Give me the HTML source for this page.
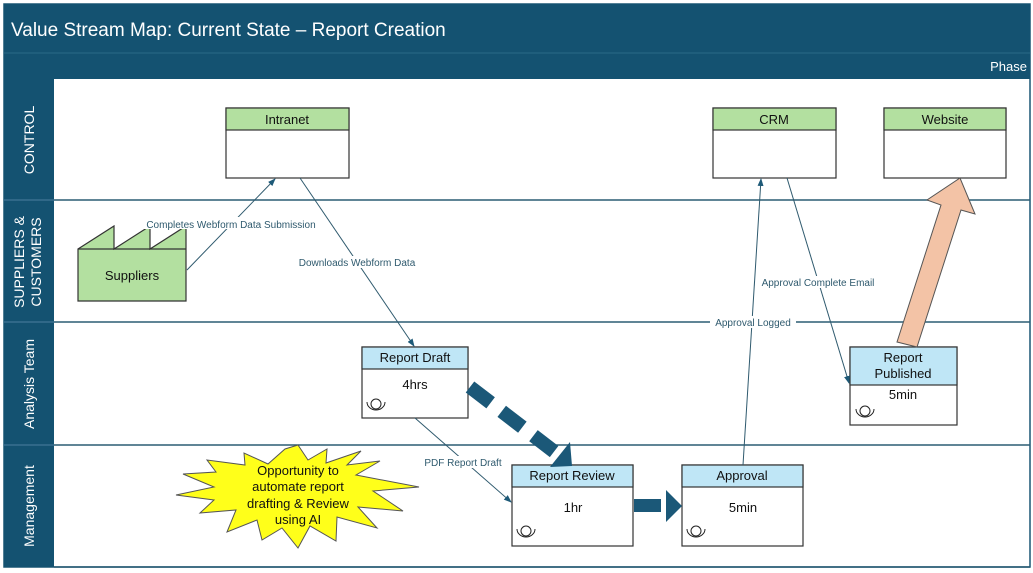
<!DOCTYPE html>
<html><head><meta charset="utf-8"><style>
body{margin:0;background:#fff;width:1033px;height:573px;overflow:hidden}
svg{display:block;font-family:"Liberation Sans",sans-serif}
</style></head><body>
<svg width="1033" height="573" viewBox="0 0 1033 573">
<defs>
<marker id="a" markerWidth="8" markerHeight="8" refX="7" refY="4" orient="auto" markerUnits="userSpaceOnUse"><path d="M0,1 L8,4 L0,7 Z" fill="#1e5a78"/></marker>
</defs>
<rect x="4" y="4" width="1026" height="563" fill="#fff" stroke="#1a5674" stroke-width="1.5"/>
<rect x="4" y="4" width="1026" height="49" fill="#145271"/>
<rect x="4" y="53" width="1026" height="26" fill="#145271"/>
<line x1="4" y1="53" x2="1030" y2="53" stroke="#2a6a88" stroke-width="1"/>
<text x="11" y="36" fill="#fff" font-size="19">Value Stream Map: Current State – Report Creation</text>
<text x="1027" y="71" fill="#fff" font-size="13" text-anchor="end">Phase</text>
<rect x="4" y="79" width="50" height="488" fill="#145271"/>
<g stroke="#2b5d74" stroke-width="1.5">
<line x1="54" y1="200" x2="1030" y2="200"/><line x1="54" y1="322" x2="1030" y2="322"/><line x1="54" y1="445" x2="1030" y2="445"/><line x1="54" y1="567" x2="1030" y2="567"/>
<line x1="4" y1="200" x2="54" y2="200" stroke="#3a7090"/><line x1="4" y1="322" x2="54" y2="322" stroke="#3a7090"/><line x1="4" y1="445" x2="54" y2="445" stroke="#3a7090"/>
</g>
<g fill="#fff" font-size="14" text-anchor="middle">
<text transform="translate(34,140) rotate(-90)">CONTROL</text>
<text transform="translate(24,262) rotate(-90)">SUPPLIERS &amp;</text>
<text transform="translate(41,262) rotate(-90)">CUSTOMERS</text>
<text transform="translate(34,384) rotate(-90)">Analysis Team</text>
<text transform="translate(34,506) rotate(-90)">Management</text>
</g>
<g stroke="#333" stroke-width="1.2">
<rect x="226" y="108" width="123" height="70" fill="#fff"/><rect x="226" y="108" width="123" height="22" fill="#b3e0a0"/>
<rect x="713" y="108" width="123" height="70" fill="#fff"/><rect x="713" y="108" width="123" height="22" fill="#b3e0a0"/>
<rect x="884" y="108" width="122" height="70" fill="#fff"/><rect x="884" y="108" width="122" height="22" fill="#b3e0a0"/>
<path d="M78,249 L114,226 L114,249 L150,226 L150,249 L186,226 L186,301 L78,301 Z" fill="#b3e0a0"/>
<line x1="78" y1="249" x2="186" y2="249"/>
</g>
<g font-size="13" fill="#111" text-anchor="middle">
<text x="287" y="124">Intranet</text><text x="774" y="124">CRM</text><text x="945" y="124">Website</text>
<text x="132" y="280">Suppliers</text>
</g>
<g stroke="#333" stroke-width="1.2">
<rect x="362" y="347" width="106" height="71" fill="#fff"/><rect x="362" y="347" width="106" height="22" fill="#bfe6f6"/>
<rect x="512" y="465" width="121" height="81" fill="#fff"/><rect x="512" y="465" width="121" height="22" fill="#bfe6f6"/>
<rect x="682" y="465" width="121" height="81" fill="#fff"/><rect x="682" y="465" width="121" height="22" fill="#bfe6f6"/>
<rect x="850" y="347" width="107" height="78" fill="#fff"/><rect x="850" y="347" width="107" height="38" fill="#bfe6f6"/>
</g>
<g font-size="13" fill="#111" text-anchor="middle">
<text x="415" y="362">Report Draft</text><text x="415" y="389">4hrs</text>
<text x="572" y="480">Report Review</text><text x="573" y="512">1hr</text>
<text x="742" y="480">Approval</text><text x="743" y="512">5min</text>
<text x="903" y="362">Report</text><text x="903" y="378">Published</text><text x="903" y="399">5min</text>
</g>
<g fill="none" stroke="#222" stroke-width="1">
<circle cx="376" cy="404" r="5"/><path d="M367,402 a9,8 0 0 0 18,0"/>
<circle cx="526" cy="531" r="5"/><path d="M517,529 a9,8 0 0 0 18,0"/>
<circle cx="696" cy="531" r="5"/><path d="M687,529 a9,8 0 0 0 18,0"/>
<circle cx="865" cy="411" r="5"/><path d="M856,409 a9,8 0 0 0 18,0"/>
</g>
<g stroke="#2f5a6e" stroke-width="1" fill="none" marker-end="url(#a)">
<path d="M187,270 L275,179"/>
<path d="M300,178 L414,346"/>
<path d="M415,418 L511,502"/>
<path d="M743,465 L761,179"/>
<path d="M787,178 L849,383"/>
</g>
<g font-size="10" fill="#2f5a6e" text-anchor="middle">
<rect x="138" y="217" width="186" height="12" fill="#fff"/><text x="231" y="228">Completes Webform Data Submission</text>
<rect x="292" y="256" width="130" height="12" fill="#fff"/><text x="357" y="266">Downloads Webform Data</text>
<rect x="420" y="456" width="86" height="12" fill="#fff"/><text x="463" y="466">PDF Report Draft</text>
<rect x="756" y="276" width="124" height="12" fill="#fff"/><text x="818" y="286">Approval Complete Email</text>
<rect x="710" y="316" width="86" height="12" fill="#fff"/><text x="753" y="326">Approval Logged</text>
</g>
<g stroke="#1b5878" stroke-width="14" stroke-dasharray="26,14">
<line x1="470" y1="387" x2="556" y2="453"/>
</g>
<path d="M550,467 L570,442 L572,466 Z" fill="#1b5878"/>
<rect x="634" y="499" width="27" height="13" fill="#1b5878"/>
<path d="M666,490 L682,506 L666,522 Z" fill="#1b5878"/>
<path d="M897,342 L941,205 L927,200 L960,178 L975,214 L961,210 L917,347 Z" fill="#f3c3a6" stroke="#555" stroke-width="1"/>
<polygon fill="#ffff1a" stroke="#555" stroke-width="1" points="298,445 308,460 327,449 326,463 361,451 347,465 380,461 356,475 419,487 373,491 403,511 358,507 377,528 337,517 336,541 310,526 298,548 282,528 262,540 257,520 227,532 236,510 200,513 214,500 176,495 214,487 183,474 216,472 207,460 245,465 244,453 268,464 285,449"/>
<g font-size="13" fill="#111" text-anchor="middle">
<text x="298" y="475">Opportunity to</text><text x="298" y="491">automate report</text><text x="298" y="508">drafting &amp; Review</text><text x="298" y="524">using AI</text>
</g>
</svg>
</body></html>
